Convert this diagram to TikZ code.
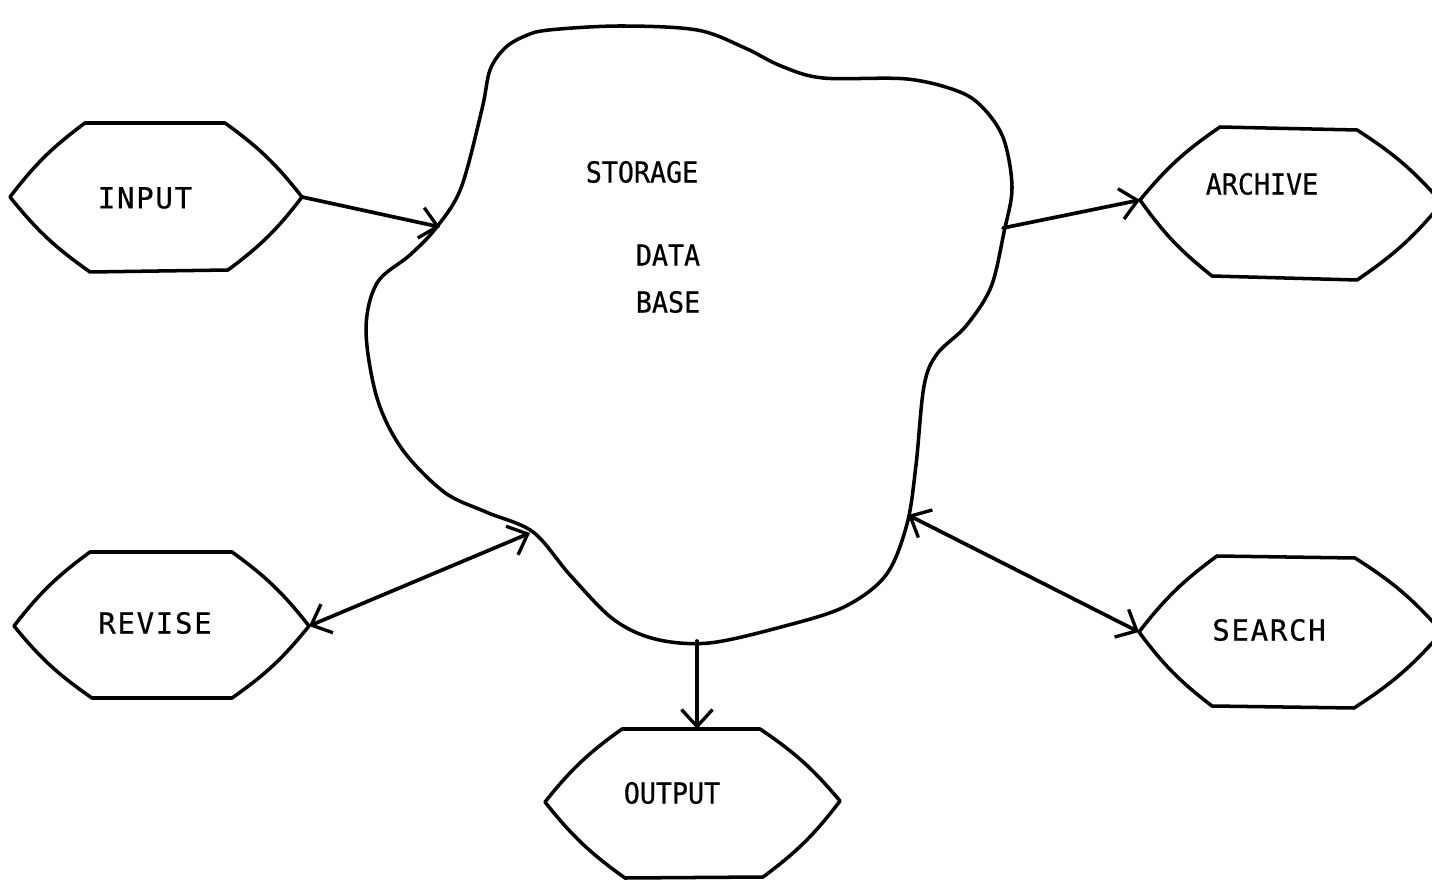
\documentclass[tikz,border=0pt]{standalone}
\usepackage{fontspec}
\usetikzlibrary{arrows.meta}
\newfontfamily\tfontw[LetterSpace=6,FakeBold=0.6]{DejaVu Sans Mono}
\newfontfamily\tfontn[FakeStretch=0.92,FakeBold=0.6]{DejaVu Sans Mono}
\begin{document}
\begin{tikzpicture}[x=0.02cm,y=-0.02cm,
  outline/.style={line width=2pt, line join=round, line cap=round},
  conn/.style={line width=2.1pt, line cap=round},
  tip/.style={-{Straight Barb[length=0.34cm,width=0.62cm,line width=1.9pt]}},
  dtip/.style={{Straight Barb[length=0.34cm,width=0.62cm,line width=1.9pt]}-{Straight Barb[length=0.34cm,width=0.62cm,line width=1.9pt]}},
  lblw/.style={font=\tfontw\fontsize{16.5pt}{18pt}\selectfont, inner sep=0pt},
  lbln/.style={font=\tfontn\fontsize{16.5pt}{18pt}\selectfont, inner sep=0pt},
  hexbend/.style={bend left=8}
]
\useasboundingbox (0,0) rectangle (1432,884);
\clip (0,0) rectangle (1432,884);

% ---- cloud (storage data base)
\draw[outline] plot[smooth cycle, tension=0.55] coordinates {
 (490,70) (505,48) (525,36) (549,30) (620,26) (697,30) (745,48) (781,66)
 (823,78) (907,79) (960,92) (985,110) (1004,140) (1012,188) (1004,232)
 (991,287) (966,326) (937,354) (924,386) (916,465) (907,524) (886,575)
 (844,607) (781,627) (709,643) (655,639) (613,619) (570,575) (533,532)
 (486,512) (444,492) (402,449) (377,398) (366,330) (377,283) (410,255)
 (436,228) (461,188) (482,109)};
\node[lbln] (storage) at (642,172) {STORAGE};
\node[lbln] (data) at (668,255) {DATA};
\node[lbln] (base) at (668,302) {BASE};
\coordinate (cIn) at (440,227);
\coordinate (cArc) at (1003,228);
\coordinate (cRev) at (530,533);
\coordinate (cSea) at (908,515);
\coordinate (cOut) at (697,641);

% ---- INPUT
\coordinate (inL) at (10,197);
\coordinate (inR) at (302,197);
\draw[outline] (85,123) -- (225,123) to[hexbend] (inR) to[hexbend] (228,270)
  -- (90,272) to[hexbend] (inL) to[hexbend] cycle;
\node[lblw] (input) at (145,198) {INPUT};

% ---- ARCHIVE
\coordinate (arL) at (1140,200);
\coordinate (arR) at (1442,203);
\draw[outline] (1220,127) -- (1357,130) to[hexbend] (arR) to[hexbend] (1357,280)
  -- (1212,276) to[hexbend] (arL) to[hexbend] cycle;
\node[lbln] (archive) at (1262,184) {ARCHIVE};

% ---- REVISE
\coordinate (reL) at (14,626);
\coordinate (reR) at (309,626);
\draw[outline] (90,552) -- (232,552) to[hexbend] (reR) to[hexbend] (232,698)
  -- (92,698) to[hexbend] (reL) to[hexbend] cycle;
\node[lblw] (revise) at (155,623) {REVISE};

% ---- SEARCH
\coordinate (seL) at (1139,632);
\coordinate (seR) at (1442,632);
\draw[outline] (1217,556) -- (1355,558) to[hexbend] (seR) to[hexbend] (1354,708)
  -- (1212,706) to[hexbend] (seL) to[hexbend] cycle;
\node[lblw] (search) at (1269,630) {SEARCH};

% ---- OUTPUT
\coordinate (ouT) at (697,729);
\coordinate (ouL) at (545,802);
\coordinate (ouR) at (840,801);
\draw[outline] (622,729) -- (760,729) to[hexbend] (ouR) to[hexbend] (763,877)
  -- (625,878) to[hexbend] (ouL) to[hexbend] cycle;
\node[lbln] (output) at (672,793) {OUTPUT};

% ---- connectors
\draw[conn,tip] (inR) -- (cIn);
\draw[conn,tip] (cArc) -- (arL);
\draw[conn,dtip] (reR) -- (cRev);
\draw[conn,dtip] (cSea) -- (seL);
\draw[conn,tip] (cOut) -- (ouT);
\end{tikzpicture}
\end{document}
